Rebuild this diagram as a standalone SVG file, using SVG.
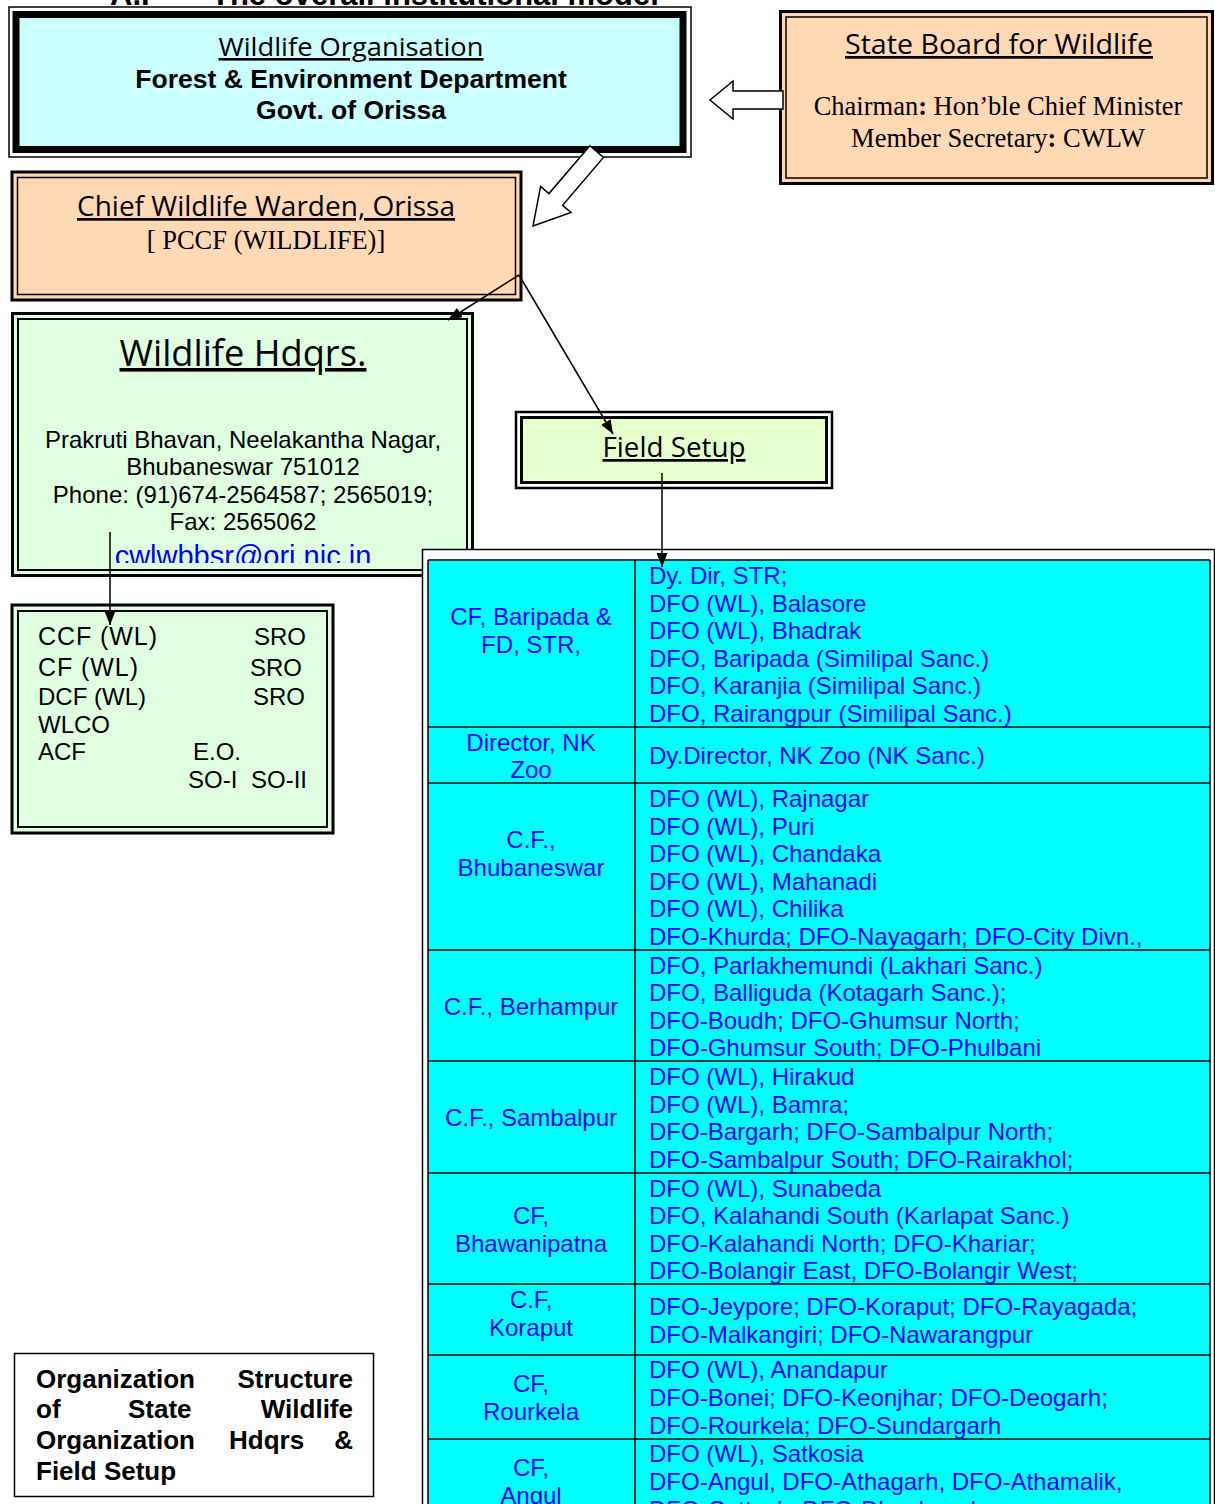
<svg xmlns="http://www.w3.org/2000/svg" width="1215" height="1504" viewBox="0 0 1215 1504">
<style>
.comic{font-family:"Open Sans","DejaVu Sans",sans-serif;text-decoration:underline;fill:#000}
.arial{font-family:"Liberation Sans",Arial,sans-serif;fill:#000}
.bold{font-weight:bold}
.times{font-family:"Liberation Serif","Times New Roman",serif;fill:#000}
.tb{font-family:"Liberation Sans",Arial,sans-serif;font-size:24px;fill:#0000FF}
.tc{text-anchor:middle}
.conn{stroke:#000;stroke-width:1.5;fill:none}
.hollow{fill:#fff;stroke:#000;stroke-width:1.5}
.grid{stroke:#000;stroke-width:1.5}
</style>
<defs>
<marker id="ah" markerWidth="14" markerHeight="11" refX="14" refY="5.5" orient="auto" markerUnits="userSpaceOnUse">
<path d="M0,0 L14,5.5 L0,11 z" fill="#000"/>
</marker>
<clipPath id="hqclip"><rect x="18" y="319" width="449" height="244"/></clipPath>
</defs>

<g id="title">
<text class="arial bold" x="110" y="5" font-size="31">A.I</text>
<text class="arial bold" x="211" y="5" font-size="31">The overall institutional model</text>
</g>

<g id="wildlife-organisation">
<rect x="9" y="7" width="682" height="150" fill="#fff" stroke="#000" stroke-width="1.5"/>
<rect x="16" y="14.5" width="667" height="135" fill="#CCFFFF" stroke="#000" stroke-width="7"/>
<text class="comic tc" x="351" y="56" font-size="26" textLength="265" lengthAdjust="spacingAndGlyphs">Wildlife Organisation</text>
<text class="arial bold tc" x="351" y="88" font-size="26.5">Forest &amp; Environment Department</text>
<text class="arial bold tc" x="351" y="119" font-size="26.5">Govt. of Orissa</text>
</g>

<g id="state-board">
<rect x="780.5" y="11.5" width="432" height="172" fill="#FFD9B3" stroke="#000" stroke-width="3"/>
<rect x="786" y="17" width="421" height="161" fill="none" stroke="#000" stroke-width="1.5"/>
<text class="comic tc" x="999" y="54" font-size="27" textLength="308" lengthAdjust="spacingAndGlyphs">State Board for Wildlife</text>
<text class="times tc" x="998" y="115" font-size="26.5">Chairman<tspan font-weight="bold">:</tspan> Hon’ble Chief Minister</text>
<text class="times tc" x="998" y="147" font-size="26.5">Member Secretary<tspan font-weight="bold">:</tspan> CWLW</text>
</g>

<g id="chief-wildlife-warden">
<rect x="12" y="172" width="509" height="128" fill="#FFD9B3" stroke="#000" stroke-width="3"/>
<rect x="17.5" y="177.5" width="498" height="117" fill="none" stroke="#000" stroke-width="1.5"/>
<text class="comic tc" x="266" y="216" font-size="27" textLength="378" lengthAdjust="spacingAndGlyphs">Chief Wildlife Warden, Orissa</text>
<text class="times tc" x="266" y="249" font-size="26.5">[ PCCF (WILDLIFE)]</text>
</g>

<g id="wildlife-hdqrs">
<rect x="12.5" y="313.5" width="460" height="262" fill="#E0FFE0" stroke="#000" stroke-width="3"/>
<rect x="18" y="319" width="449" height="251" fill="none" stroke="#000" stroke-width="2"/>
<text class="comic tc" x="243" y="366" font-size="36" textLength="247" lengthAdjust="spacingAndGlyphs">Wildlife Hdqrs.</text>
<text class="arial tc" x="243" y="448" font-size="24">Prakruti Bhavan, Neelakantha Nagar,</text>
<text class="arial tc" x="243" y="475" font-size="24">Bhubaneswar 751012</text>
<text class="arial tc" x="243" y="503" font-size="24">Phone: (91)674-2564587; 2565019;</text>
<text class="arial tc" x="243" y="530" font-size="24">Fax: 2565062</text>
<g clip-path="url(#hqclip)">
<text class="arial tc" x="243" y="566" font-size="29" style="fill:#0000FF">cwlwbbsr@ori.nic.in</text>
</g>
</g>

<g id="field-setup">
<rect x="516" y="412" width="316" height="76" fill="#fff" stroke="#000" stroke-width="2.5"/>
<rect x="521.5" y="417.5" width="305" height="65" fill="#E6FFCC" stroke="#000" stroke-width="3"/>
<text class="comic tc" x="674" y="457" font-size="27" textLength="143" lengthAdjust="spacingAndGlyphs">Field Setup</text>
</g>

<g id="hq-staff">
<rect x="12" y="605" width="321" height="228" fill="#E0FFE0" stroke="#000" stroke-width="3"/>
<rect x="18" y="611" width="309" height="216" fill="none" stroke="#000" stroke-width="2"/>
<text class="arial" font-size="25" x="38" y="645" textLength="119" lengthAdjust="spacing">CCF (WL)</text>
<text class="arial" font-size="24" x="254" y="645">SRO</text>
<text class="arial" font-size="25" x="38" y="676" textLength="100" lengthAdjust="spacing">CF (WL)</text>
<text class="arial" font-size="24" x="250" y="676">SRO</text>
<text class="arial" font-size="24" x="38" y="705">DCF (WL)</text>
<text class="arial" font-size="24" x="253" y="705">SRO</text>
<text class="arial" font-size="24" x="38" y="733">WLCO</text>
<text class="arial" font-size="24" x="38" y="760">ACF</text>
<text class="arial" font-size="24" x="193" y="760">E.O.</text>
<text class="arial" font-size="24" x="188" y="788">SO-I</text>
<text class="arial" font-size="24" x="251" y="788">SO-II</text>
</g>

<g id="field-table">
<rect x="422.5" y="549.5" width="792" height="970" fill="#fff" stroke="#000" stroke-width="1.5"/>
<rect x="428" y="560" width="782" height="960" fill="#00FFFF"/>
<line class="grid" x1="428" y1="560" x2="428" y2="1504"/>
<line class="grid" x1="1210" y1="560" x2="1210" y2="1504"/>
<line class="grid" x1="635" y1="560" x2="635" y2="1504"/>
<line class="grid" x1="428" y1="560" x2="1210" y2="560"/>
<line class="grid" x1="428" y1="727" x2="1210" y2="727"/>
<line class="grid" x1="428" y1="783" x2="1210" y2="783"/>
<line class="grid" x1="428" y1="950" x2="1210" y2="950"/>
<line class="grid" x1="428" y1="1061" x2="1210" y2="1061"/>
<line class="grid" x1="428" y1="1173" x2="1210" y2="1173"/>
<line class="grid" x1="428" y1="1284" x2="1210" y2="1284"/>
<line class="grid" x1="428" y1="1355" x2="1210" y2="1355"/>
<line class="grid" x1="428" y1="1439" x2="1210" y2="1439"/>

<text class="tb tc" x="531" y="625">CF, Baripada &amp;</text>
<text class="tb tc" x="531" y="653">FD, STR,</text>
<text class="tb" x="649" y="584">Dy. Dir, STR;</text>
<text class="tb" x="649" y="612">DFO (WL), Balasore</text>
<text class="tb" x="649" y="639">DFO (WL), Bhadrak</text>
<text class="tb" x="649" y="667">DFO, Baripada (Similipal Sanc.)</text>
<text class="tb" x="649" y="694">DFO, Karanjia (Similipal Sanc.)</text>
<text class="tb" x="649" y="722">DFO, Rairangpur (Similipal Sanc.)</text>

<text class="tb tc" x="531" y="751">Director, NK</text>
<text class="tb tc" x="531" y="778">Zoo</text>
<text class="tb" x="649" y="764">Dy.Director, NK Zoo (NK Sanc.)</text>

<text class="tb tc" x="531" y="848">C.F.,</text>
<text class="tb tc" x="531" y="876">Bhubaneswar</text>
<text class="tb" x="649" y="807">DFO (WL), Rajnagar</text>
<text class="tb" x="649" y="835">DFO (WL), Puri</text>
<text class="tb" x="649" y="862">DFO (WL), Chandaka</text>
<text class="tb" x="649" y="890">DFO (WL), Mahanadi</text>
<text class="tb" x="649" y="917">DFO (WL), Chilika</text>
<text class="tb" x="649" y="945">DFO-Khurda; DFO-Nayagarh; DFO-City Divn.,</text>

<text class="tb tc" x="531" y="1015">C.F., Berhampur</text>
<text class="tb" x="649" y="974">DFO, Parlakhemundi (Lakhari Sanc.)</text>
<text class="tb" x="649" y="1001">DFO, Balliguda (Kotagarh Sanc.);</text>
<text class="tb" x="649" y="1029">DFO-Boudh; DFO-Ghumsur North;</text>
<text class="tb" x="649" y="1056">DFO-Ghumsur South; DFO-Phulbani</text>

<text class="tb tc" x="531" y="1126">C.F., Sambalpur</text>
<text class="tb" x="649" y="1085">DFO (WL), Hirakud</text>
<text class="tb" x="649" y="1113">DFO (WL), Bamra;</text>
<text class="tb" x="649" y="1140">DFO-Bargarh; DFO-Sambalpur North;</text>
<text class="tb" x="649" y="1168">DFO-Sambalpur South; DFO-Rairakhol;</text>

<text class="tb tc" x="531" y="1224">CF,</text>
<text class="tb tc" x="531" y="1252">Bhawanipatna</text>
<text class="tb" x="649" y="1197">DFO (WL), Sunabeda</text>
<text class="tb" x="649" y="1224">DFO, Kalahandi South (Karlapat Sanc.)</text>
<text class="tb" x="649" y="1252">DFO-Kalahandi North; DFO-Khariar;</text>
<text class="tb" x="649" y="1279">DFO-Bolangir East, DFO-Bolangir West;</text>

<text class="tb tc" x="531" y="1308">C.F,</text>
<text class="tb tc" x="531" y="1336">Koraput</text>
<text class="tb" x="649" y="1315">DFO-Jeypore; DFO-Koraput; DFO-Rayagada;</text>
<text class="tb" x="649" y="1343">DFO-Malkangiri; DFO-Nawarangpur</text>

<text class="tb tc" x="531" y="1392">CF,</text>
<text class="tb tc" x="531" y="1420">Rourkela</text>
<text class="tb" x="649" y="1378">DFO (WL), Anandapur</text>
<text class="tb" x="649" y="1406">DFO-Bonei; DFO-Keonjhar; DFO-Deogarh;</text>
<text class="tb" x="649" y="1434">DFO-Rourkela; DFO-Sundargarh</text>

<text class="tb tc" x="531" y="1476">CF,</text>
<text class="tb tc" x="531" y="1504">Angul</text>
<text class="tb" x="649" y="1462">DFO (WL), Satkosia</text>
<text class="tb" x="649" y="1490">DFO-Angul, DFO-Athagarh, DFO-Athamalik,</text>
<text class="tb" x="649" y="1518">DFO-Cuttack; DFO-Dhenkanal</text>
</g>

<g id="caption">
<rect x="14.5" y="1353.5" width="359" height="143" fill="#fff" stroke="#000" stroke-width="1.5"/>
<text class="arial bold" font-size="26" x="36" y="1388">Organization</text>
<text class="arial bold" font-size="26" x="353" y="1388" text-anchor="end">Structure</text>
<text class="arial bold" font-size="26" x="36" y="1418">of</text>
<text class="arial bold" font-size="26" x="128" y="1418">State</text>
<text class="arial bold" font-size="26" x="353" y="1418" text-anchor="end">Wildlife</text>
<text class="arial bold" font-size="26" x="36" y="1449">Organization</text>
<text class="arial bold" font-size="26" x="229" y="1449">Hdqrs</text>
<text class="arial bold" font-size="26" x="353" y="1449" text-anchor="end">&amp;</text>
<text class="arial bold" font-size="26" x="36" y="1480">Field Setup</text>
</g>

<g id="connectors">
<polygon class="hollow" points="710,100 733,81 733,91 783,91 783,109 733,109 733,119"/>
<polygon class="hollow" points="533,226 571,212.4 562.6,205.3 603.5,157.4 589.9,145.7 548.9,193.6 540.6,186.4"/>
<line class="conn" x1="519" y1="275" x2="448" y2="320" marker-end="url(#ah)"/>
<line class="conn" x1="519" y1="275" x2="613" y2="434" marker-end="url(#ah)"/>
<line class="conn" x1="662" y1="473" x2="662" y2="567" marker-end="url(#ah)"/>
<line class="conn" x1="110" y1="532" x2="110" y2="625" marker-end="url(#ah)"/>
</g>
</svg>
